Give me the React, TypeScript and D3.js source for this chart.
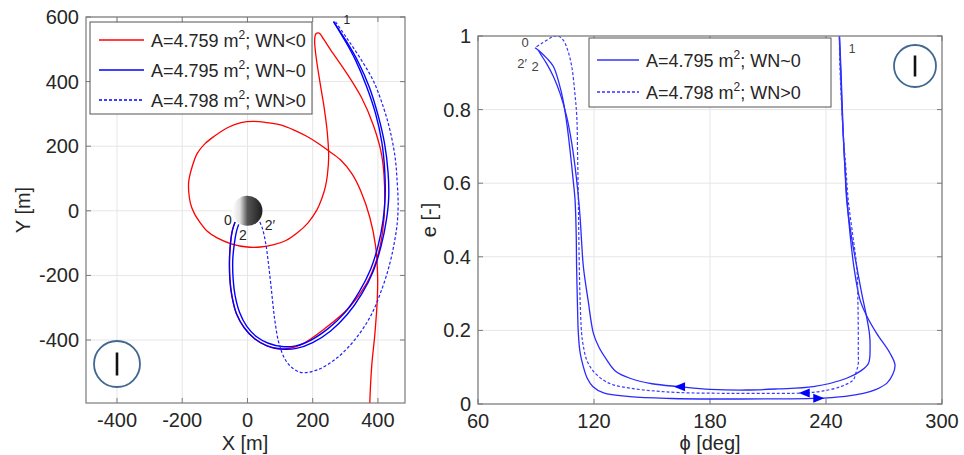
import * as d3 from 'd3';

// left panel: trajectories in the X-Y plane [m]
const blueOut: [number, number][] = [
  [-38, -35], [-46, -60], [-52, -100], [-55, -150], [-54, -210], [-48, -262], [-34, -318], [-10, -362],
  [22, -396], [60, -418], [105, -428], [150, -426], [200, -408], [255, -372], [305, -322], [350, -258],
  [386, -186], [410, -108], [426, -28], [433, 40], [431, 120], [420, 210], [402, 290], [374, 382],
  [340, 460], [305, 522], [264, 586],
];
const blueBack: [number, number][] = [
  [264, 586], [300, 525], [332, 465], [364, 388], [393, 300], [412, 212], [421, 122], [422, 40],
  [416, -28], [401, -106], [378, -180], [343, -250], [298, -316], [248, -364], [195, -400], [148, -418],
  [105, -420], [64, -410], [28, -390], [-2, -358], [-24, -315], [-38, -262], [-44, -210], [-45, -150],
  [-40, -100], [-34, -65], [-27, -42],
];
const dashedXY: [number, number][] = [
  [270, 585], [305, 534], [346, 472], [387, 400], [418, 317], [438, 245], [453, 163], [459, 90],
  [462, 20], [459, -40], [450, -100], [436, -165], [413, -240], [378, -325], [330, -398], [275, -455],
  [215, -492], [162, -500], [122, -470], [98, -415], [84, -340], [74, -250], [64, -160], [55, -95],
  [46, -55], [38, -35],
];
const redXY: [number, number][] = [
  [-38, -35], [-46, -60], [-52, -100], [-55, -150], [-54, -210], [-48, -262], [-34, -318], [-10, -362],
  [22, -396], [60, -418], [105, -428], [161, -416], [243, -360], [314, -297], [365, -225], [396, -151],
  [414, -68], [421, 35], [412, 170], [386, 265], [350, 350], [305, 425], [256, 497], [233, 532], [220, 550],
  [210, 548], [206, 528], [210, 480], [222, 400], [235, 320], [244, 250], [249, 168], [245, 110],
  [239, 75], [228, 38], [213, 3], [185, -38], [152, -69], [118, -92], [81, -105], [40, -112], [-1, -112],
  [-50, -102], [-93, -84], [-125, -62], [-144, -38], [-163, -8], [-175, 24], [-180, 58], [-180, 91],
  [-170, 135], [-154, 178], [-130, 208], [-103, 230], [-60, 258], [-20, 273], [19, 277], [60, 273],
  [101, 266], [143, 250], [183, 230], [215, 210], [244, 189], [285, 158], [320, 115], [348, 60],
  [375, -20], [393, -110], [399, -200], [398, -274], [391, -377], [381, -480], [375, -594], [374, -640],
];
const sphereR = 46;

// right panel: phi [deg] vs e [-]
const solidOut: [number, number][] = [
  [89.5, 0.968], [92, 0.958], [95.5, 0.94], [99, 0.917], [102, 0.87], [104, 0.826], [106, 0.76],
  [107.6, 0.69], [109, 0.62], [110.2, 0.554], [110.8, 0.46], [111, 0.373], [111.4, 0.28], [111.9, 0.192],
  [112.8, 0.14], [114.5, 0.101], [116.5, 0.07], [119.5, 0.047], [125, 0.03], [138.6, 0.02], [160, 0.015],
  [181.7, 0.0136], [210, 0.014], [233.4, 0.0154], [250, 0.021], [259.3, 0.029], [266, 0.04], [271.4, 0.056],
  [274.5, 0.08], [275.7, 0.106], [273.1, 0.138], [266.2, 0.192], [261, 0.24], [257.6, 0.283], [254.5, 0.37],
  [252.4, 0.464], [250.8, 0.56], [249.8, 0.645], [248.8, 0.74], [248.1, 0.826], [247.5, 0.917], [246.9, 1.0],
  [246.7, 1.05],
];
const solidBack: [number, number][] = [
  [246.7, 1.05], [247, 1.0], [247.8, 0.9], [248.9, 0.736], [249.8, 0.64], [250.7, 0.554], [253, 0.46],
  [255.9, 0.373], [258.5, 0.3], [261, 0.237], [262.5, 0.19], [262.8, 0.156], [262, 0.111], [258, 0.09],
  [250.7, 0.07], [233.4, 0.047], [215, 0.041], [199, 0.038], [180, 0.04], [164.5, 0.047], [150, 0.055],
  [138.6, 0.07], [131, 0.09], [126.6, 0.12], [122.5, 0.155], [119.7, 0.192], [117, 0.28], [114.5, 0.373],
  [113.6, 0.44], [112.8, 0.509], [111.6, 0.58], [110.2, 0.645], [108.3, 0.715], [105.9, 0.78], [102.7, 0.84],
  [99, 0.89], [95.5, 0.925], [92.1, 0.953], [91.2, 0.962],
];
const dashedPhi: [number, number][] = [
  [246.8, 1.05], [247.2, 0.917], [248.9, 0.736], [250.3, 0.64], [251.5, 0.554], [253.8, 0.46], [255.9, 0.373],
  [256.5, 0.28], [256.7, 0.192], [256.7, 0.14], [256.7, 0.11], [255.5, 0.085], [254, 0.065], [248, 0.048],
  [238, 0.035], [229, 0.03], [216.2, 0.029], [190, 0.029], [164.5, 0.031], [150, 0.036], [138.6, 0.043],
  [130, 0.052], [124.8, 0.065], [119.5, 0.09], [116.2, 0.12], [114.4, 0.16], [113.6, 0.192], [112.8, 0.283],
  [112.3, 0.4], [111.9, 0.554], [111.5, 0.68], [111.1, 0.78], [110, 0.85], [108.5, 0.917], [106.5, 0.96],
  [104.1, 0.989], [101.5, 1.0], [99, 0.999], [97.2, 0.994], [93, 0.98], [89.5, 0.968],
];
// arrow heads: phi, e, direction (1 = right, -1 = left)
const arrows: [number, number, number][] = [[236, 0.0155, 1], [164.5, 0.047, -1], [229, 0.03, -1]];

const xTicksL = [-400, -200, 0, 200, 400];
const yTicksL = [-400, -200, 0, 200, 400, 600];
const xTicksR = [60, 120, 180, 240, 300];
const yTicksR = [0, 0.2, 0.4, 0.6, 0.8, 1];
const legendL = [
  { a: '4.759', wn: 'WN<0', color: '#ff0000', dash: '' },
  { a: '4.795', wn: 'WN~0', color: '#0000ff', dash: '' },
  { a: '4.798', wn: 'WN>0', color: '#0000ff', dash: '3,2' },
];

const FONT = '"Liberation Sans", Arial, Helvetica, sans-serif';
const GRID = '#e6e6e6';
const BOX = '#7a7a7a';
const TXT = '#262626';

function Axes({ x, y, xt, yt, fx, fy }: any) {
  const [x0, x1] = x.range();
  const [y0, y1] = y.range();
  return (
    <g>
      <rect x={x0} y={y1} width={x1 - x0} height={y0 - y1} fill="white" />
      {xt.map((t: number) => (
        <line key={'gx' + t} x1={x(t)} x2={x(t)} y1={y0} y2={y1} stroke={GRID} />
      ))}
      {yt.map((t: number) => (
        <line key={'gy' + t} x1={x0} x2={x1} y1={y(t)} y2={y(t)} stroke={GRID} />
      ))}
      {xt.map((t: number) => (
        <g key={'tx' + t}>
          <line x1={x(t)} x2={x(t)} y1={y0} y2={y0 - 5} stroke={BOX} />
          <line x1={x(t)} x2={x(t)} y1={y1} y2={y1 + 5} stroke={BOX} />
          <text x={x(t)} y={y0 + 24} textAnchor="middle" fontSize={20} fill={TXT}>{fx(t)}</text>
        </g>
      ))}
      {yt.map((t: number) => (
        <g key={'ty' + t}>
          <line x1={x0} x2={x0 + 5} y1={y(t)} y2={y(t)} stroke={BOX} />
          <line x1={x1} x2={x1 - 5} y1={y(t)} y2={y(t)} stroke={BOX} />
          <text x={x0 - 7} y={y(t) + 7} textAnchor="end" fontSize={20} fill={TXT}>{fy(t)}</text>
        </g>
      ))}
    </g>
  );
}

function Frame({ x, y }: any) {
  const [x0, x1] = x.range();
  const [y0, y1] = y.range();
  return <rect x={x0} y={y1} width={x1 - x0} height={y0 - y1} fill="none" stroke={BOX} strokeWidth={1.2} />;
}

function Badge({ cx, cy, r }: any) {
  return (
    <g>
      <circle cx={cx} cy={cy} r={r} fill="white" stroke="#41688f" strokeWidth={1.8} />
      <line x1={cx} x2={cx} y1={cy - r * 0.5} y2={cy + r * 0.5} stroke="#111" strokeWidth={2.6} />
    </g>
  );
}

function LegendRow({ x, y, item, len }: any) {
  return (
    <g>
      <line x1={x} x2={x + len} y1={y} y2={y} stroke={item.color} strokeWidth={1.4} strokeDasharray={item.dash} />
      <text x={x + len + 7} y={y + 7} fontSize={18} fill={TXT}>
        {'A=' + item.a + ' m'}
        <tspan dy={-8} fontSize={12}>2</tspan>
        <tspan dy={8}>{'; ' + item.wn}</tspan>
      </text>
    </g>
  );
}

export default function App() {
  const lx = d3.scaleLinear([-495, 483], [86, 405]);
  const ly = d3.scaleLinear([-595, 600], [403, 17]);
  const rx = d3.scaleLinear([60, 300], [478, 942]);
  const ry = d3.scaleLinear([0, 1], [404, 36]);

  const lineL = d3.line<[number, number]>().x(d => lx(d[0])).y(d => ly(d[1])).curve(d3.curveCatmullRom);
  const lineR = d3.line<[number, number]>().x(d => rx(d[0])).y(d => ry(d[1])).curve(d3.curveCatmullRom);
  const sr = lx(sphereR) - lx(0);
  const plain = (t: number) => String(t);
  const eFmt = (t: number) => (t === 0 || t === 1 ? String(t) : d3.format('.1f')(t));

  return (
    <svg width={964} height={455} style={{ position: 'absolute', left: 0, top: 0 }} fontFamily={FONT}>
      <defs>
        <clipPath id="clipL"><rect x={86} y={17} width={319} height={386} /></clipPath>
        <clipPath id="clipR"><rect x={478} y={36} width={464} height={368} /></clipPath>
        <linearGradient id="sph" x1="0" x2="1" y1="0" y2="0">
          <stop offset="0" stopColor="#ffffff" />
          <stop offset="0.25" stopColor="#e0e0e0" />
          <stop offset="0.5" stopColor="#555" />
          <stop offset="1" stopColor="#1e1e1e" />
        </linearGradient>
      </defs>
      <rect width={964} height={455} fill="white" />

      {/* left panel */}
      <Axes x={lx} y={ly} xt={xTicksL} yt={yTicksL} fx={plain} fy={plain} />
      <g clipPath="url(#clipL)">
        <circle cx={lx(0)} cy={ly(0)} r={sr} fill="url(#sph)" />
        <path d={lineL(redXY) || ''} fill="none" stroke="#ff0000" strokeWidth={1.3} />
        <path d={lineL(blueOut) || ''} fill="none" stroke="#0000ff" strokeWidth={1.4} />
        <path d={lineL(blueBack) || ''} fill="none" stroke="#0000ff" strokeWidth={1.4} />
        <path d={lineL(dashedXY) || ''} fill="none" stroke="#2020ff" strokeWidth={1.2} strokeDasharray="3,2" />
      </g>
      <Frame x={lx} y={ly} />
      <text x={228} y={225} fontSize={14} fill={TXT} textAnchor="middle">0</text>
      <text x={243} y={240} fontSize={14} fill={TXT} textAnchor="middle">2</text>
      <text x={270} y={230} fontSize={14} fill={TXT} textAnchor="middle">2′</text>
      <text x={lx(305)} y={ly(578)} fontSize={12} fill={TXT} textAnchor="middle">1</text>
      <rect x={90} y={22} width={222} height={92} fill="white" stroke="#555" strokeWidth={1} />
      {legendL.map((it, i) => (
        <LegendRow key={i} x={99} y={40 + i * 30} item={it} len={45} />
      ))}
      <Badge cx={117} cy={364} r={23} />
      <text x={245} y={450} textAnchor="middle" fontSize={20} fill={TXT}>X [m]</text>
      <text transform="translate(30,210) rotate(-90)" textAnchor="middle" fontSize={20} fill={TXT}>Y [m]</text>

      {/* right panel */}
      <Axes x={rx} y={ry} xt={xTicksR} yt={yTicksR} fx={plain} fy={eFmt} />
      <g clipPath="url(#clipR)">
        <path d={lineR(solidOut) || ''} fill="none" stroke="#2a2aff" strokeWidth={1.3} />
        <path d={lineR(solidBack) || ''} fill="none" stroke="#2a2aff" strokeWidth={1.3} />
        <path d={lineR(dashedPhi) || ''} fill="none" stroke="#3a3aff" strokeWidth={1.2} strokeDasharray="3,2" />
        {arrows.map(([p, e, dir], i) => {
          const cx = rx(p), cy = ry(e);
          return (
            <path key={i} d={`M${cx + dir * 6},${cy} L${cx - dir * 5},${cy - 4.5} L${cx - dir * 5},${cy + 4.5} Z`} fill="#0000ff" />
          );
        })}
      </g>
      <Frame x={rx} y={ry} />
      <text x={525} y={47} fontSize={13} fill="#444" textAnchor="middle">0</text>
      <text x={522} y={68} fontSize={13} fill="#444" textAnchor="middle">2′</text>
      <text x={535} y={71} fontSize={13} fill="#444" textAnchor="middle">2</text>
      <text x={852} y={53} fontSize={12} fill="#444" textAnchor="middle">1</text>
      <rect x={589} y={38} width={242} height={69} fill="white" stroke="#555" strokeWidth={1} />
      {legendL.slice(1).map((it, i) => (
        <LegendRow key={i} x={597} y={60 + i * 32} item={{ ...it, color: '#3333ff' }} len={42} />
      ))}
      <Badge cx={915} cy={66} r={21} />
      <text x={710} y={450} textAnchor="middle" fontSize={20} fill={TXT}>ϕ [deg]</text>
      <text transform="translate(436,220) rotate(-90)" textAnchor="middle" fontSize={20} fill={TXT}>e [-]</text>
    </svg>
  );
}
